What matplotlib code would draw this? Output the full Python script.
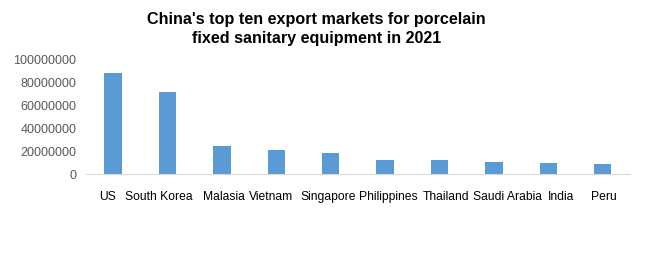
import matplotlib.pyplot as plt
from matplotlib.ticker import FuncFormatter
from matplotlib.transforms import ScaledTranslation

plt.rcParams['font.family'] = ['Liberation Sans', 'DejaVu Sans']

# top ten markets and export values
markets = ["US", "South Korea", "Malasia", "Vietnam", "Singapore",
           "Philippines", "Thailand", "Saudi Arabia", "India", "Peru"]
values = [87600000, 71300000, 24600000, 20600000, 18500000,
          12400000, 12400000, 10400000, 9600000, 8700000]
yticks = [0, 20000000, 40000000, 60000000, 80000000, 100000000]

# label nudges (pixels) like the original's uneven placement
label_shift = [-6, -9, 2, -5, -3, 3, 7, 14, 13, 1]

fig = plt.figure(figsize=(6.46, 2.59), dpi=100)
ax = fig.add_axes([0.133, 0.328, 0.842, 0.444])

ax.bar(range(len(markets)), values, width=0.32, color="#5b9bd5")

ax.set_xlim(-0.5, len(markets) - 0.5)
ax.set_ylim(0, 100000000)
ax.set_yticks(yticks)
ax.yaxis.set_major_formatter(FuncFormatter(lambda v, p: f"{int(v)}"))
ax.set_xticks(range(len(markets)))
ax.set_xticklabels(markets)

for side in ["top", "right", "left"]:
    ax.spines[side].set_visible(False)
ax.spines["bottom"].set_color("#d9d9d9")
ax.tick_params(axis="x", length=0, pad=12, labelsize=8.7, labelcolor="black")
ax.tick_params(axis="y", length=0, pad=7, labelsize=9, labelcolor="#595959")

for lab, dx in zip(ax.get_xticklabels(), label_shift):
    lab.set_transform(lab.get_transform() + ScaledTranslation(dx / 100, 0, fig.dpi_scale_trans))

fig.suptitle("China's top ten export markets for porcelain\nfixed sanitary equipment in 2021",
             x=0.49, y=0.955, fontsize=11.6, fontweight="bold", linespacing=1.35)

fig.savefig("out.png", dpi=100)
